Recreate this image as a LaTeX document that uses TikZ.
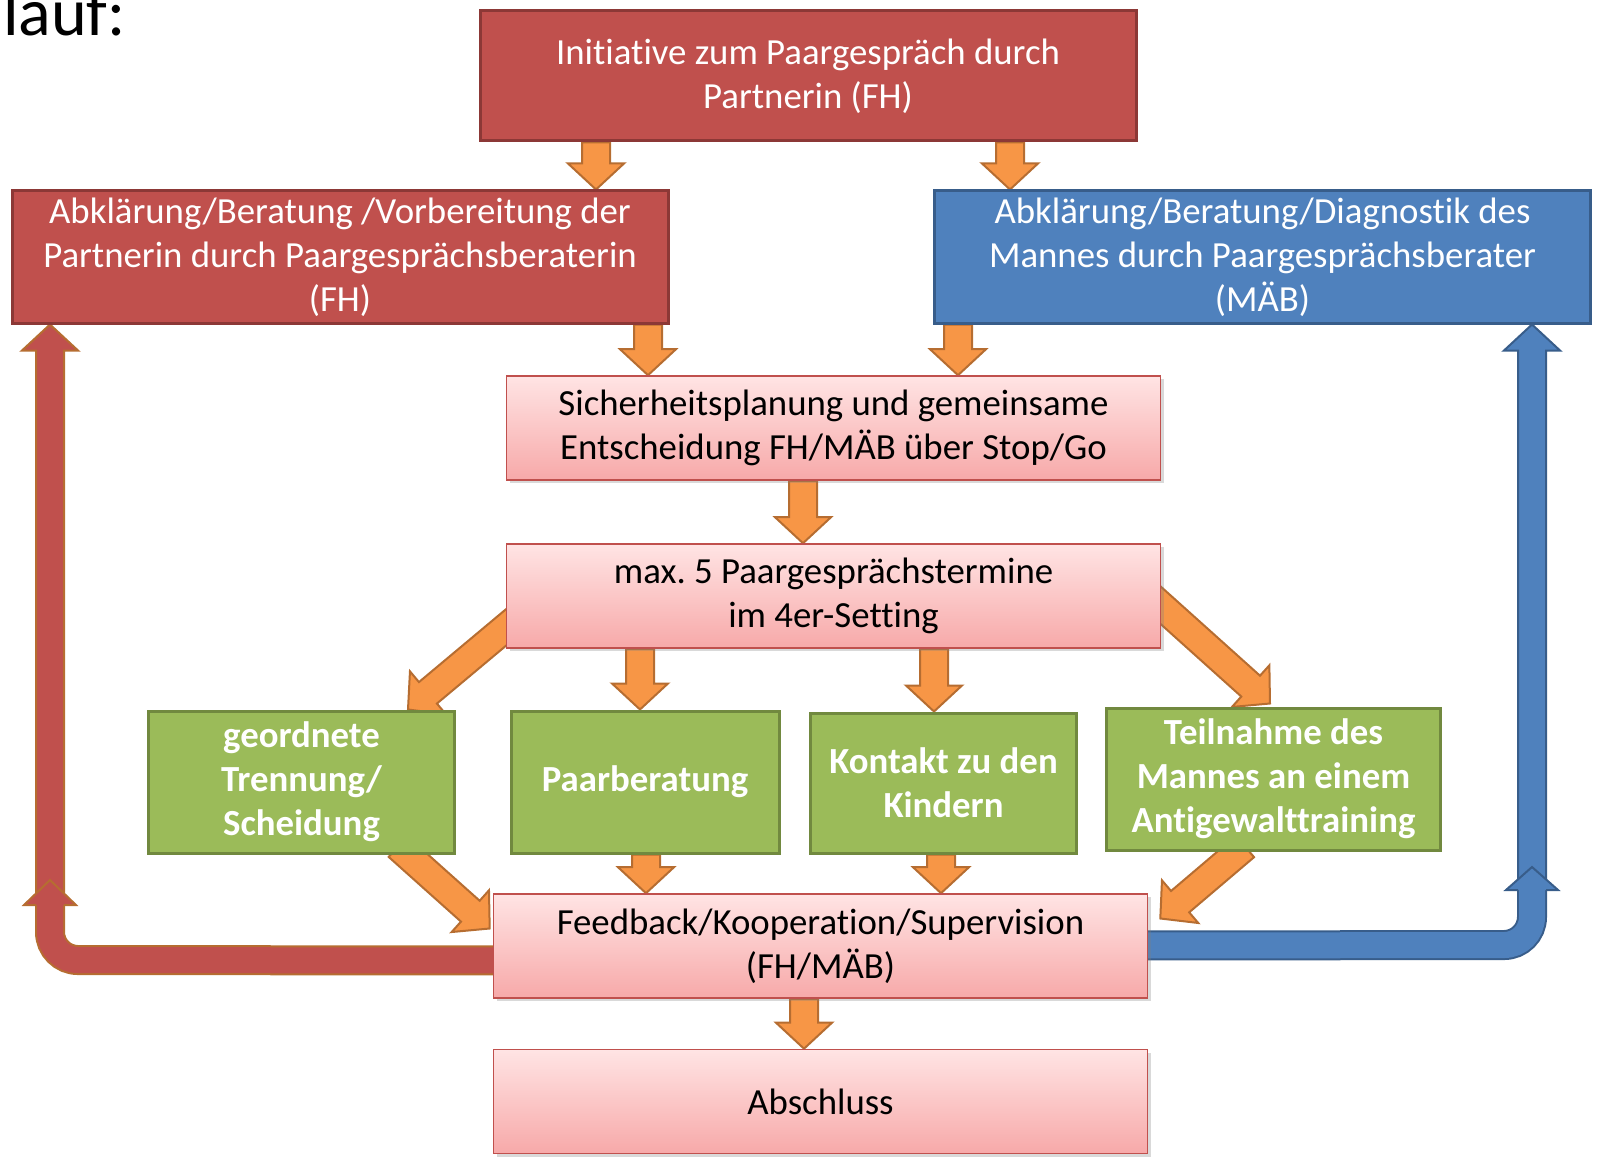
\documentclass[tikz,border=0pt]{standalone}
\usepackage{fontspec}
\setmainfont[Ligatures=NoCommon]{Carlito}
\usetikzlibrary{calc,shadows}
\pgfdeclarelayer{bg}
\pgfsetlayers{bg,main}

\definecolor{boxred}{HTML}{C0504D}
\definecolor{boxredline}{HTML}{8C3836}
\definecolor{boxblue}{HTML}{4F81BD}
\definecolor{boxblueline}{HTML}{385D8A}
\definecolor{boxgreen}{HTML}{9BBB59}
\definecolor{boxgreenline}{HTML}{71893F}
\definecolor{arrorange}{HTML}{F79646}
\definecolor{arrorangeline}{HTML}{B66D31}
\definecolor{pinktop}{HTML}{FFE4E4}
\definecolor{pinkbot}{HTML}{F7A9A9}
\definecolor{pinkline}{HTML}{C0504D}

\tikzset{
  box/.style={rectangle, align=center, inner sep=0pt, font=\fontsize{18.4}{22}\selectfont},
  redbox/.style={box, fill=boxred, draw=boxredline, line width=1.5pt, text=white},
  bluebox/.style={box, fill=boxblue, draw=boxblueline, line width=1.5pt, text=white},
  pinkbox/.style={box, top color=pinktop, bottom color=pinkbot, draw=pinkline, line width=0.8pt,
    drop shadow={opacity=0.3, shadow xshift=1.5pt, shadow yshift=-1.5pt}},
  greenbox/.style={box, fill=boxgreen, draw=boxgreenline, line width=1.5pt, text=white,
    font=\fontsize{18.4}{22}\selectfont\bfseries},
  orangearr/.style={fill=arrorange, draw=arrorangeline, line width=1pt},
  redarr/.style={fill=boxred, draw=arrorangeline, line width=1pt},
  bluearr/.style={fill=boxblue, draw=boxblueline, line width=1pt},
  redshaft/.style={draw=arrorangeline, double=boxred, double distance=13pt, line width=1pt, rounded corners=14pt},
  blueshaft/.style={draw=boxblueline, double=boxblue, double distance=13pt, line width=1pt, rounded corners=14pt},
}

% block arrow: style, from, to
\newcommand{\blockarrow}[3]{%
  \coordinate (ba-b) at ($(#3)!13pt!(#2)$);
  \filldraw[#1] ($(#2)!7pt!90:(#3)$) -- ($(ba-b)!7pt!90:(#3)$) -- ($(ba-b)!14pt!90:(#3)$)
    -- (#3) -- ($(ba-b)!14pt!-90:(#3)$) -- ($(ba-b)!7pt!-90:(#3)$) -- ($(#2)!7pt!-90:(#3)$) -- cycle;
}
% open head on a bent shaft: style, base, tip
\newcommand{\arrowtip}[3]{%
  \filldraw[#1] ($(#2)!7pt!90:(#3)$) -- ($(#2)!13pt!90:(#3)$) -- (#3)
    -- ($(#2)!13pt!-90:(#3)$) -- ($(#2)!7pt!-90:(#3)$);
}

\begin{document}
\begin{tikzpicture}[x=0.5pt, y=-0.5pt]
  \useasboundingbox (0,0) rectangle (1597,1161);

  \node[anchor=base east, font=\fontsize{34}{38}\selectfont] (title) at (133,36) {lauf:};

  % boxes
  \node[redbox, minimum width=328pt, minimum height=65pt] (top) at (808,76)
    {Initiative zum Paargespräch durch\\Partnerin (FH)};
  \node[redbox, minimum width=328pt, minimum height=66pt] (lbox) at (340,257)
    {Abklärung/Beratung /Vorbereitung der\\Partnerin durch Paargesprächsberaterin\\(FH)};
  \node[bluebox, minimum width=328pt, minimum height=66pt] (rbox) at (1262.5,257)
    {Abklärung/Beratung/Diagnostik des\\Mannes durch Paargesprächsberater\\(MÄB)};
  \node[pinkbox, minimum width=327pt, minimum height=52pt] (sich) at (833.5,428)
    {Sicherheitsplanung und gemeinsame\\Entscheidung FH/MÄB über Stop/Go};
  \node[pinkbox, minimum width=327pt, minimum height=52pt] (max5) at (833.5,596)
    {max.\ 5 Paargesprächstermine\\im 4er-Setting};
  \node[greenbox, minimum width=153pt, minimum height=71pt] (g1) at (301.5,782)
    {geordnete\\Trennung/\\Scheidung};
  \node[greenbox, minimum width=134pt, minimum height=71pt] (g2) at (645,782) {Paarberatung};
  \node[greenbox, minimum width=133pt, minimum height=70pt] (g3) at (943.5,783)
    {Kontakt zu den\\Kindern};
  \node[greenbox, minimum width=167pt, minimum height=71pt] (g4) at (1273.5,779)
    {Teilnahme des\\Mannes an einem\\Antigewalttraining};
  \node[pinkbox, minimum width=327pt, minimum height=52pt] (fb) at (820.5,946)
    {Feedback/Kooperation/Supervision\\(FH/MÄB)};
  \node[pinkbox, minimum width=327pt, minimum height=52pt] (absch) at (820.5,1101.5) {Abschluss};

  % arrow ends
  \coordinate (a1) at ($(top.south)+(-212,0)$);   \coordinate (b1) at ($(lbox.north)+(256,0)$);
  \coordinate (a2) at ($(top.south)+(202,0)$);    \coordinate (b2) at ($(rbox.north)+(-252.5,0)$);
  \coordinate (a3) at ($(lbox.south)+(308,0)$);   \coordinate (b3) at ($(sich.north)+(-185.5,0)$);
  \coordinate (a4) at ($(rbox.south)+(-304.5,0)$); \coordinate (b4) at ($(sich.north)+(124.5,0)$);
  \coordinate (a5) at ($(sich.south)+(-30.5,0)$); \coordinate (b5) at ($(max5.north)+(-30.5,0)$);
  \coordinate (a6) at ($(max5.south)+(-193.5,0)$); \coordinate (b6) at ($(g2.north)+(-5,0)$);
  \coordinate (a7) at ($(max5.south)+(100.5,0)$); \coordinate (b7) at ($(g3.north)+(-9.5,0)$);
  \coordinate (a8) at ($(g2.south)+(1,0)$);       \coordinate (b8) at ($(fb.north)+(-174.5,0)$);
  \coordinate (a9) at ($(g3.south)+(-2.5,0)$);    \coordinate (b9) at ($(fb.north)+(120.5,0)$);
  \coordinate (a10) at ($(fb.south)+(-16.5,0)$);  \coordinate (b10) at ($(absch.north)+(-16.5,0)$);
  \coordinate (a11) at ($(max5.west)+(14,20)$);   \coordinate (b11) at ($(g1.north)+(106.5,0)$);
  \coordinate (a12) at ($(max5.east)+(-11,0)$);   \coordinate (b12) at ($(g4.north)+(-3.5,-3)$);
  \coordinate (a13) at ($(g1.south)+(96.5,-8)$);  \coordinate (b13) at ($(fb.west)+(-3,-17.5)$);
  \coordinate (a14) at ($(g4.south)+(-28.5,-5)$); \coordinate (b14) at ($(fb.east)+(12,-27.5)$);

  % loop ends
  \coordinate (rl0) at ($(fb.west)+(10,14.5)$);   \coordinate (rlc) at (50,960);
  \coordinate (rlb) at (50,905);                  \coordinate (rlt) at (50,880);
  \coordinate (rup) at (50,895);                  \coordinate (rtop) at ($(lbox.south)+(-290,0)$);
  \coordinate (bl0) at ($(fb.east)+(-10,-0.5)$);  \coordinate (blc) at (1532,945);
  \coordinate (blb) at (1532,890);                \coordinate (blt) at (1532,867);
  \coordinate (bup) at (1532,880);                \coordinate (btop) at ($(rbox.south)+(269.5,0)$);

  \begin{pgfonlayer}{bg}
    \foreach \i in {1,...,14} {
      \blockarrow{orangearr}{a\i}{b\i}
    }
    % loops back to the two counsellors
    \blockarrow{redarr}{rup}{rtop}
    \blockarrow{bluearr}{bup}{btop}
    \draw[redshaft] (rl0) -- (rlc) -- (rlb);
    \arrowtip{redarr}{rlb}{rlt}
    \draw[blueshaft] (bl0) -- (blc) -- (blb);
    \arrowtip{bluearr}{blb}{blt}
  \end{pgfonlayer}
\end{tikzpicture}
\end{document}
